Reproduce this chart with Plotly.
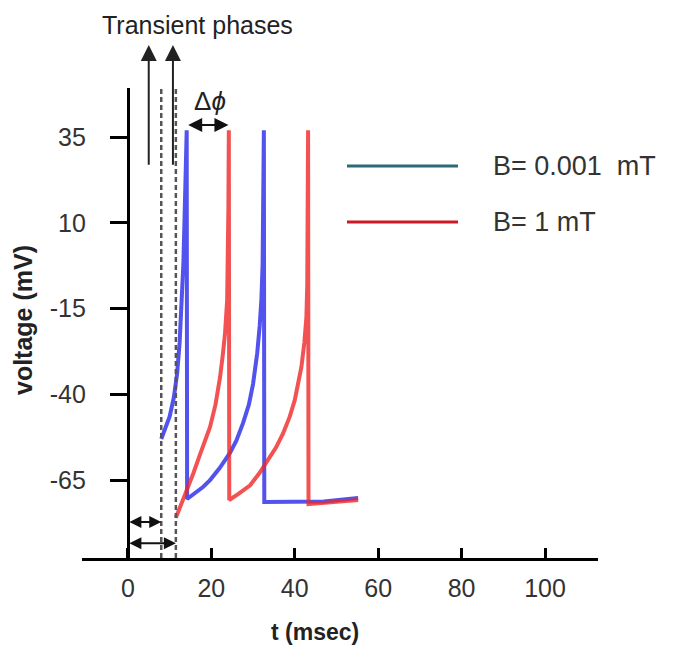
import plotly.graph_objects as go

# ---- data ----
series_names = ["B= 0.001  mT", "B= 1 mT"]
blue_t = [8, 9, 10, 11, 11.8, 12.4, 12.9, 13.3, 13.6, 13.9, 14.1, 14.2,
          16, 18, 19.7, 22, 24.5, 26, 27.6, 29, 30, 31, 31.6, 32, 32.3, 32.5, 32.6, 32.7,
          40, 47, 55.2]
blue_v = [-53, -50, -46.5, -41, -34, -25, -14, -2, 12, 37, 37, -70.5,
          -69, -67, -65, -61.5, -57, -53.5, -48.4, -43, -37, -28, -20, -12.5, -2, 15, 37, -71.4,
          -71.4, -71.2, -70.2]
red_t = [11.5, 13, 14.5, 15.7, 17, 18.5, 19.7, 21, 22.1, 22.8, 23.3, 23.8, 24, 24.1, 24.2, 24.3,
         26.5, 29.3, 31.5, 33.3, 35.5, 37.2, 38.8, 40, 41, 41.6, 42.3, 42.8, 43, 43.1, 43.2, 43.3,
         48, 55.2]
red_v = [-76, -71.5, -67, -63, -58.5, -53.5, -49.5, -43, -35, -28, -22, -12.5, 0, 15, 37, -70.8,
         -69, -66.5, -63, -59.5, -55.5, -51.4, -46.5, -41.7, -36, -32, -25, -17.4, -8, 10, 37, -72,
         -71.5, -70.8]
x_ticks = [0, 20, 40, 60, 80, 100]
y_ticks = [35, 10, -15, -40, -65]
y_tick_text = ["35", "10", "-15", "-40", "-65"]
transient_t = [8, 11.5]          # dashed transient-phase markers
arrow_up_t = [5, 10.8]           # vertical arrows under the title
phase_shift = [14.1, 24.1]       # delta-phi arrow endpoints

X_RANGE = [-11.0, 112.7]
Y_RANGE = [-87.7, 49.3]
FONT = "Arial, Liberation Sans, sans-serif"

fig = go.Figure()
fig.add_trace(go.Scatter(x=blue_t, y=blue_v, mode="lines", name=series_names[0],
                         line=dict(color="rgb(40,40,235)", width=4), opacity=0.8, showlegend=False))
fig.add_trace(go.Scatter(x=red_t, y=red_v, mode="lines", name=series_names[1],
                         line=dict(color="rgb(240,40,40)", width=4), opacity=0.8, showlegend=False))

# dashed transient lines
for t in transient_t:
    fig.add_shape(type="line", x0=t, x1=t, y0=Y_RANGE[0], y1=Y_RANGE[1], xref="x", yref="y",
                  line=dict(color="#555", width=2.5, dash="5px,3px"))

# vertical arrows
for t in arrow_up_t:
    fig.add_annotation(x=t, y=61.8, ax=t, ay=26.5, xref="x", yref="y", axref="x", ayref="y",
                       text="", showarrow=True, arrowhead=2, arrowsize=1.6, arrowwidth=2, arrowcolor="#222")

# horizontal double arrows at bottom
for t, v in [(transient_t[0], -77.2), (transient_t[1], -83.4)]:
    fig.add_annotation(x=t, y=v, ax=0, ay=v, xref="x", yref="y", axref="x", ayref="y",
                       text="", showarrow=True, arrowhead=2, startarrowhead=2, arrowside="end+start",
                       arrowsize=1.2, arrowwidth=2, arrowcolor="#111")

# delta phi arrow
fig.add_annotation(x=phase_shift[1], y=38.5, ax=phase_shift[0], ay=38.5, xref="x", yref="y",
                   axref="x", ayref="y", text="", showarrow=True, arrowhead=2, startarrowhead=2,
                   arrowside="end+start", arrowsize=1.4, arrowwidth=2, arrowcolor="#111")

# page offset compensation (browser body margin)
OFF = 8
W, H = 677 - OFF, 656 - OFF
L, R, T, B = 82, 598, 88, 558   # target pixel box of the plot area
def px(xp):
    return (xp - L) / (R - L)
def py(yp):
    return (B - yp) / (B - T)

def label(x, y, text, size, xanchor="center", angle=0, color="#222"):
    fig.add_annotation(xref="paper", yref="paper", x=px(x), y=py(y), text=text, showarrow=False,
                       xanchor=xanchor, yanchor="middle", textangle=angle,
                       font=dict(family=FONT, size=size, color=color))

label(210, 101, "Δ<i>ϕ</i>", 26)
label(197, 25, "Transient phases", 25)

legend_colors = ["rgb(45,105,120)", "rgb(205,25,35)"]
legend_y = [166, 222]
for name, col, yp in zip(series_names, legend_colors, legend_y):
    fig.add_shape(type="line", xref="paper", yref="paper", x0=px(347), x1=px(458), y0=py(yp), y1=py(yp),
                  line=dict(color=col, width=3))
    label(491, yp, name, 27, xanchor="left", color="#333")

# axis titles
label(315, 632, "<b>t (msec)</b>", 23)
label(23, 320, "<b>voltage (mV)</b>", 25, angle=-90)

ypos = (0 - X_RANGE[0]) / (X_RANGE[1] - X_RANGE[0])
fig.update_layout(
    width=W, height=H,
    margin=dict(l=L - OFF, r=677 - R, t=T - OFF, b=656 - B),
    plot_bgcolor="white", paper_bgcolor="white",
    showlegend=False,
    xaxis=dict(range=X_RANGE, tickvals=x_ticks, ticks="inside", ticklen=10, tickwidth=3, tickcolor="black",
               showline=True, linewidth=3, linecolor="black", showgrid=False, zeroline=False,
               tickfont=dict(family=FONT, size=25, color="#333"), ticklabelstandoff=6),
    yaxis=dict(range=Y_RANGE, tickvals=y_ticks, ticktext=y_tick_text, ticks="outside", ticklen=17,
               tickwidth=3, tickcolor="black",
               showline=True, linewidth=3, linecolor="black", showgrid=False, zeroline=False,
               anchor="free", position=ypos,
               tickfont=dict(family=FONT, size=25, color="#333"), ticklabelstandoff=19),
)

fig.write_html("out.html")
